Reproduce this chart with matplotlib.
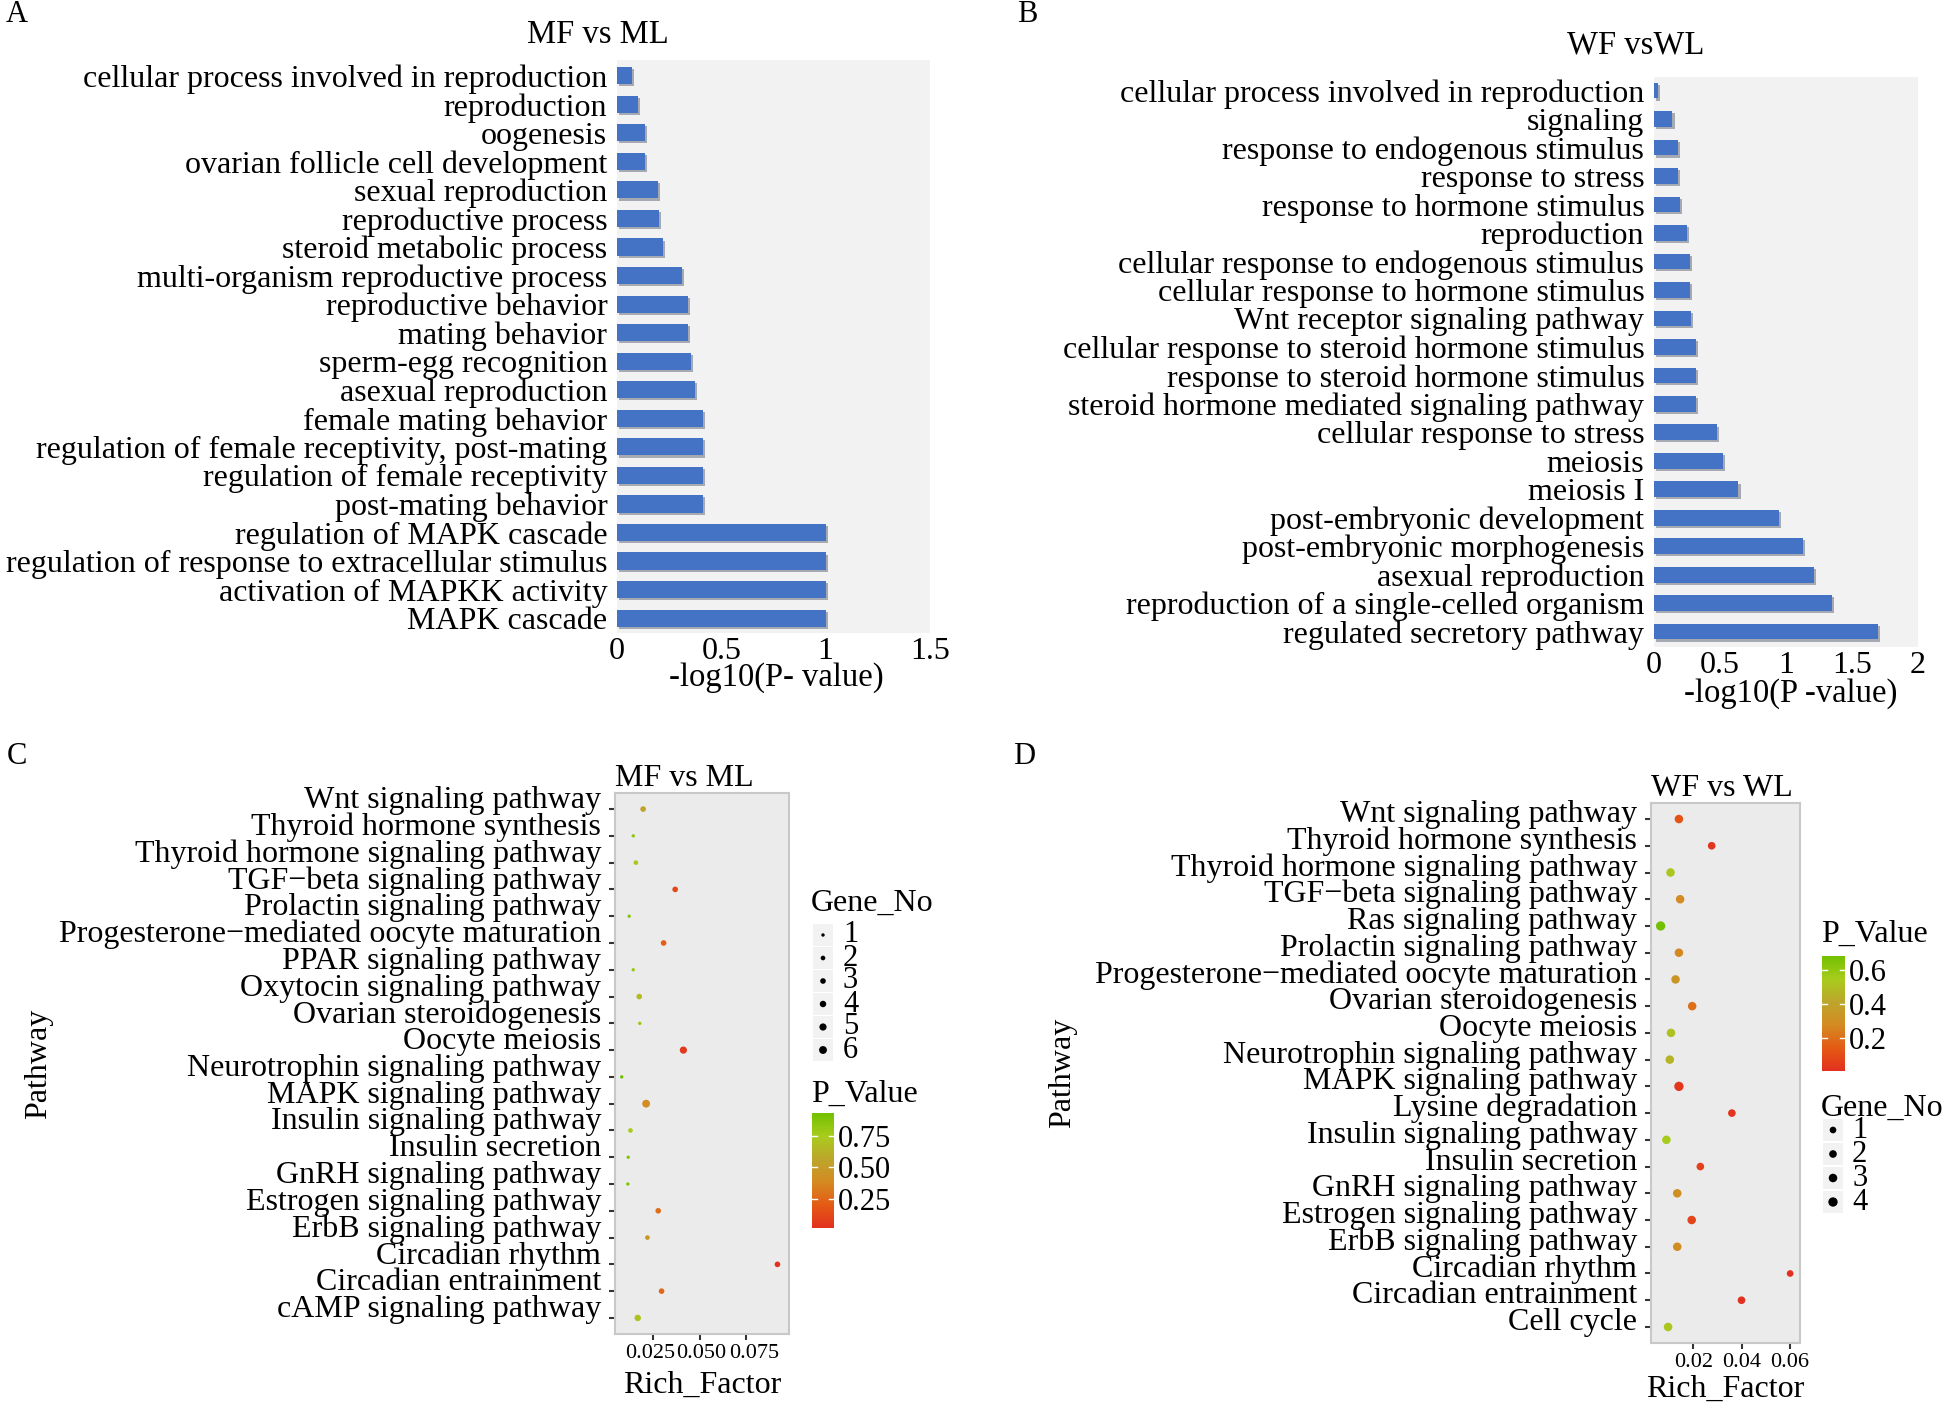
import numpy as np
import matplotlib
matplotlib.use("Agg")
import matplotlib.pyplot as plt
import matplotlib.patheffects as pe
import matplotlib.transforms as mtransforms
from matplotlib.colors import LinearSegmentedColormap
from matplotlib.patches import Rectangle

plt.rcParams["font.family"] = ["Liberation Serif", "DejaVu Serif"]

W, H = 1946, 1406

# ---- panel A : MF vs ML, GO terms ----
a_terms = [
    "cellular process involved in reproduction", "reproduction", "oogenesis",
    "ovarian follicle cell development", "sexual reproduction", "reproductive process",
    "steroid metabolic process", "multi-organism reproductive process",
    "reproductive behavior", "mating behavior", "sperm-egg recognition",
    "asexual reproduction", "female mating behavior",
    "regulation of female receptivity, post-mating", "regulation of female receptivity",
    "post-mating behavior", "regulation of MAPK cascade",
    "regulation of response to extracellular stimulus", "activation of MAPKK activity",
    "MAPK cascade",
]
a_values = [0.07, 0.10, 0.135, 0.135, 0.195, 0.20, 0.22, 0.31, 0.34, 0.34,
            0.355, 0.375, 0.41, 0.41, 0.41, 0.41, 1.0, 1.0, 1.0, 1.0]

# ---- panel B : WF vs WL, GO terms ----
b_terms = [
    "cellular process involved in reproduction", "signaling",
    "response to endogenous stimulus", "response to stress",
    "response to hormone stimulus", "reproduction",
    "cellular response to endogenous stimulus", "cellular response to hormone stimulus",
    "Wnt receptor signaling pathway", "cellular response to steroid hormone stimulus",
    "response to steroid hormone stimulus", "steroid hormone mediated signaling pathway",
    "cellular response to stress", "meiosis", "meiosis I",
    "post-embryonic development", "post-embryonic morphogenesis",
    "asexual reproduction", "reproduction of a single-celled organism",
    "regulated secretory pathway",
]
b_values = [0.03, 0.14, 0.18, 0.18, 0.20, 0.25, 0.27, 0.27, 0.28, 0.32,
            0.32, 0.32, 0.48, 0.52, 0.64, 0.95, 1.13, 1.21, 1.35, 1.70]

# ---- panel C : MF vs ML, KEGG (top to bottom) ----
c_pathways = [
    "Wnt signaling pathway", "Thyroid hormone synthesis",
    "Thyroid hormone signaling pathway", "TGF\u2212beta signaling pathway",
    "Prolactin signaling pathway", "Progesterone\u2212mediated oocyte maturation",
    "PPAR signaling pathway", "Oxytocin signaling pathway",
    "Ovarian steroidogenesis", "Oocyte meiosis", "Neurotrophin signaling pathway",
    "MAPK signaling pathway", "Insulin signaling pathway", "Insulin secretion",
    "GnRH signaling pathway", "Estrogen signaling pathway", "ErbB signaling pathway",
    "Circadian rhythm", "Circadian entrainment", "cAMP signaling pathway",
]
c_rich = [0.0197, 0.0144, 0.0158, 0.0369, 0.0122, 0.0307, 0.0144, 0.0176, 0.0179, 0.0413,
          0.0082, 0.0213, 0.0129, 0.0117, 0.0115, 0.0278, 0.0220, 0.0918, 0.0296, 0.0168]
c_pval = [0.55, 0.82, 0.72, 0.12, 0.86, 0.22, 0.80, 0.66, 0.80, 0.06,
          0.93, 0.40, 0.75, 0.87, 0.87, 0.28, 0.48, 0.02, 0.26, 0.70]
c_genes = [3, 1, 2, 3, 1, 3, 1, 3, 1, 5, 1, 6, 2, 1, 1, 3, 2, 3, 3, 4]

# ---- panel D : WF vs WL, KEGG (top to bottom) ----
d_pathways = [
    "Wnt signaling pathway", "Thyroid hormone synthesis",
    "Thyroid hormone signaling pathway", "TGF\u2212beta signaling pathway",
    "Ras signaling pathway", "Prolactin signaling pathway",
    "Progesterone\u2212mediated oocyte maturation", "Ovarian steroidogenesis",
    "Oocyte meiosis", "Neurotrophin signaling pathway", "MAPK signaling pathway",
    "Lysine degradation", "Insulin signaling pathway", "Insulin secretion",
    "GnRH signaling pathway", "Estrogen signaling pathway", "ErbB signaling pathway",
    "Circadian rhythm", "Circadian entrainment", "Cell cycle",
]
d_rich = [0.0140, 0.0276, 0.0105, 0.0145, 0.0064, 0.0140, 0.0126, 0.0195, 0.0107, 0.0102,
          0.0140, 0.0360, 0.0088, 0.0229, 0.0133, 0.0193, 0.0133, 0.0602, 0.0400, 0.0095]
d_pval = [0.12, 0.02, 0.52, 0.28, 0.68, 0.27, 0.33, 0.20, 0.51, 0.46,
          0.03, 0.02, 0.55, 0.06, 0.30, 0.07, 0.29, 0.004, 0.01, 0.52]
d_genes = [3, 2, 3, 3, 4, 3, 3, 3, 3, 3, 4, 2, 3, 2, 3, 3, 3, 1, 2, 3]

pcmap = LinearSegmentedColormap.from_list(
    "pval", ["#E2301F", "#E45A14", "#D48A22", "#BDA52C", "#A8CC1C", "#72C000"])

BAR_COLOR = "#4472C4"
PANEL_BG = "#F2F2F2"
GG_BG = "#EBEBEB"
FS = 23


def px_axes(fig, x0, y0, x1, y1):
    return fig.add_axes([x0 / W, 1 - y1 / H, (x1 - x0) / W, (y1 - y0) / H])


def size_map(n, nmax, smin, smax):
    return smin + (smax - smin) * (np.asarray(n) - 1) / (nmax - 1)


def shift_text(txt, dx_px, dy_px, fig):
    off = mtransforms.ScaledTranslation(dx_px / 100, dy_px / 100, fig.dpi_scale_trans)
    txt.set_transform(txt.get_transform() + off)


def bar_panel(ax, terms, values, xmax, ticks, ticklabels, ylim, bar_h):
    y = np.arange(len(terms))
    bars = ax.barh(y, values, height=bar_h, color=BAR_COLOR)
    for b in bars:
        b.set_path_effects([pe.SimplePatchShadow(offset=(1.5, -1.5), alpha=0.35), pe.Normal()])
    ax.set_xlim(0, xmax)
    ax.set_ylim(*ylim)
    ax.set_yticks(y, terms, fontsize=FS)
    ax.set_xticks(ticks, ticklabels, fontsize=FS)
    ax.tick_params(length=0)
    ax.tick_params(axis="x", pad=3)
    ax.tick_params(axis="y", pad=7)
    ax.set_facecolor(PANEL_BG)
    for s in ax.spines.values():
        s.set_visible(False)


def dot_panel(ax, paths, rich, pval, sizes, xlim, xticks, xticklabels, title,
              label_dy, xlabel_pad, xtick_dx):
    y = np.arange(len(paths))
    sc = ax.scatter(rich, y, c=pval, s=sizes, cmap=pcmap,
                    vmin=min(pval), vmax=max(pval), edgecolors="none", zorder=3)
    ax.set_xlim(*xlim)
    ax.set_ylim(len(paths) - 0.4, -0.6)
    ax.set_yticks(y, paths, fontsize=FS)
    ax.set_xticks(xticks, xticklabels, fontsize=16)
    ax.tick_params(length=4, width=1.5, color="#333333", pad=3)
    ax.tick_params(axis="y", pad=6)
    for lab in ax.get_yticklabels():
        shift_text(lab, 0, label_dy, ax.figure)
    for lab, dx in zip(ax.get_xticklabels(), xtick_dx):
        shift_text(lab, dx, 0, ax.figure)
    ax.set_facecolor(GG_BG)
    for s in ax.spines.values():
        s.set_color("#C8C8C8")
        s.set_linewidth(1.5)
    ax.set_title(title, loc="left", fontsize=23, pad=4)
    ax.set_xlabel("Rich_Factor", fontsize=23, labelpad=xlabel_pad)
    ax.set_ylabel("Pathway", fontsize=23)
    return sc


def colorbar_px(fig, sc, x0, y0, x1, y1, ticks, labels):
    cax = px_axes(fig, x0, y0, x1, y1)
    cb = fig.colorbar(sc, cax=cax, ticks=ticks)
    cb.set_ticklabels(labels)
    cb.outline.set_visible(False)
    cax.tick_params(length=0, labelsize=22, pad=3)
    for t in ticks:
        cax.plot([0, 0.22], [t, t], color="white", lw=1, transform=cax.get_yaxis_transform())
        cax.plot([0.78, 1], [t, t], color="white", lw=1, transform=cax.get_yaxis_transform())
    return cb


def size_legend(ov, x_box, y_keys, counts, sizes, x_text):
    for yk in y_keys:
        ov.add_patch(Rectangle((x_box, yk - 11), 20, 22, color=PANEL_BG, lw=0, zorder=1))
    for yk, n, s in zip(y_keys, counts, sizes):
        ov.scatter([x_box + 10], [yk], s=s, color="black", edgecolors="none", zorder=2)
        ov.text(x_text, yk, str(n), fontsize=22, va="center", ha="left", zorder=3)


fig = plt.figure(figsize=(W / 100, H / 100), dpi=100)

# A
axA = px_axes(fig, 617, 60, 930, 633)
bar_panel(axA, a_terms, a_values, 1.5, [0, 0.5, 1, 1.5], ["0", "0.5", "1", "1.5"],
          (19.52, -0.55), 0.6)
fig.text(598 / W, 1 - 35 / H, "MF vs ML", fontsize=23.5, ha="center", va="center")
fig.text(776 / W, 1 - 678 / H, "-log10(P- value)", fontsize=23.5, ha="center", va="center")

# B
axB = px_axes(fig, 1654, 77, 1918, 647)
bar_panel(axB, b_terms, b_values, 2.0, [0, 0.5, 1, 1.5, 2], ["0", "0.5", "1", "1.5", "2"],
          (19.54, -0.48), 0.55)
fig.text(1636 / W, 1 - 45 / H, "WF vsWL", fontsize=23.5, ha="center", va="center")
fig.text(1791 / W, 1 - 694 / H, "-log10(P -value)", fontsize=23.5, ha="center", va="center")

# C
c_sizes = size_map(c_genes, 6, 6, 32)
axC = px_axes(fig, 615, 793, 789, 1334)
scC = dot_panel(axC, c_pathways, c_rich, c_pval, c_sizes, (0.0046, 0.098),
                [0.025, 0.05, 0.075], ["0.025", "0.050", "0.075"], "MF vs ML",
                12, 6, [-3, 2, 8])
axC.yaxis.set_label_coords(-3.23, 0.5)

# D
d_sizes = size_map(d_genes, 4, 23, 45)
axD = px_axes(fig, 1651, 803, 1800, 1343)
scD = dot_panel(axD, d_pathways, d_rich, d_pval, d_sizes, (0.0024, 0.0643),
                [0.02, 0.04, 0.06], ["0.02", "0.04", "0.06"], "WF vs WL",
                8, 2, [0, 0, 0])
axD.yaxis.set_label_coords(-3.85, 0.5)

# legends
colorbar_px(fig, scC, 812, 1113, 834, 1228, [0.25, 0.5, 0.75], ["0.25", "0.50", "0.75"])
colorbar_px(fig, scD, 1822, 956, 1845, 1071, [0.2, 0.4, 0.6], ["0.2", "0.4", "0.6"])

ov = fig.add_axes([0, 0, 1, 1])
ov.set_xlim(0, W)
ov.set_ylim(H, 0)
ov.axis("off")

ov.text(811, 903, "Gene_No", fontsize=23, va="center", ha="left")
c_counts = [1, 2, 3, 4, 5, 6]
size_legend(ov, 813, [935, 958, 981, 1004, 1027, 1050], c_counts,
            size_map(c_counts, 6, 6, 32), 843)
ov.text(811, 1094, "P_Value", fontsize=23, va="center", ha="left")

ov.text(1821, 934, "P_Value", fontsize=23, va="center", ha="left")
ov.text(1821, 1108, "Gene_No", fontsize=23, va="center", ha="left")
d_counts = [1, 2, 3, 4]
size_legend(ov, 1823, [1130, 1154, 1178, 1202], d_counts,
            size_map(d_counts, 4, 23, 45), 1852)

# panel letters
for letter, (lx, ly) in zip("ABCD", [(17, 15), (1027, 15), (17, 757), (1024, 757)]):
    ov.text(lx, ly, letter, fontsize=22, va="center", ha="center")

fig.savefig("out.png", dpi=100)
